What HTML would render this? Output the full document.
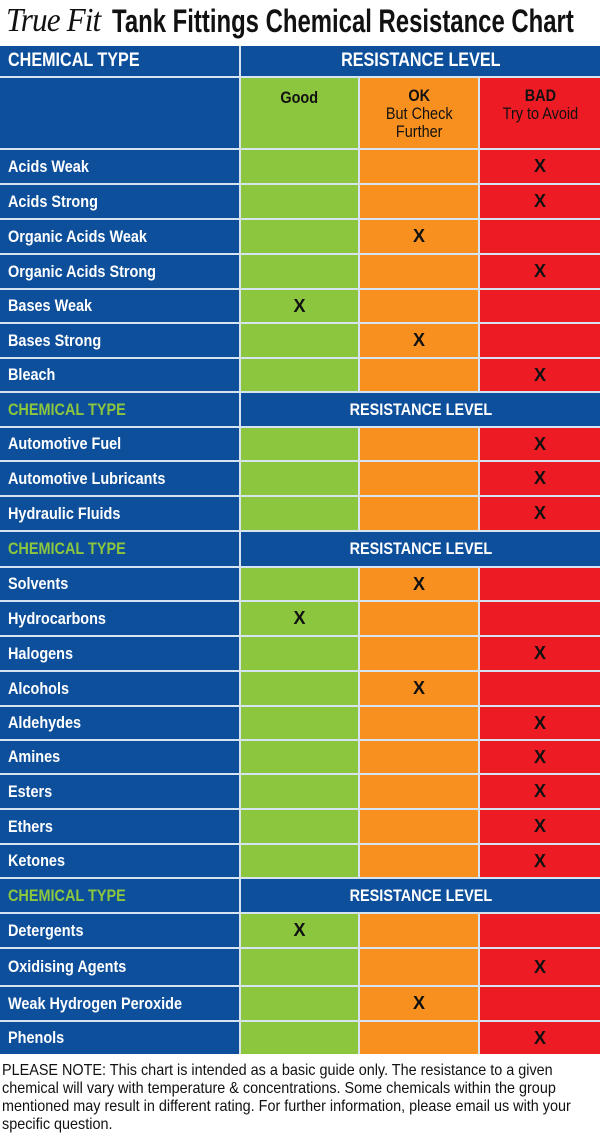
<!DOCTYPE html>
<html><head><meta charset="utf-8"><style>
body{margin:0;width:600px;height:1136px;background:#fff;position:relative;overflow:hidden;font-family:"Liberation Sans Narrow","Liberation Sans",sans-serif}
.t{position:absolute;top:0;left:0;width:600px;height:46px;overflow:hidden}
.logo{position:absolute;left:6px;top:2px;font-family:"Liberation Serif",serif;font-style:italic;font-size:34px;color:#111;letter-spacing:-1px;transform:scaleX(.92);transform-origin:left}
.title{position:absolute;left:112px;top:3px;font-weight:bold;font-size:32px;color:#111;white-space:nowrap;transform:scaleX(.747);transform-origin:left}
.tb{position:absolute;left:0;top:46px;width:600px;height:1008px;background:#d6e4f2}
.c{position:absolute;box-sizing:border-box;display:flex;align-items:center;font-weight:bold;font-size:17px;white-space:nowrap}
.c span{display:inline-block;transform:scaleX(.85);transform-origin:left center}
.cc span{transform-origin:center}
.b{background:#0d4f9b;color:#fff;padding-left:8px}
.g{background:#8cc63f}.o{background:#f7901e}.r{background:#ed1c24}
.g,.o,.r{justify-content:center;color:#111;font-size:18px}
.sec{color:#8cc63f}
.note{position:absolute;left:2px;top:1062px;font-size:16px;line-height:18px;color:#111;white-space:nowrap;transform:scaleX(.9);transform-origin:left top}
</style></head><body>
<div class="t"><div class="logo">True Fit</div><div class="title">Tank Fittings Chemical Resistance Chart</div></div>
<div class="tb"></div>
<div class="c b" style="left:0;top:46px;width:239px;height:30px;font-size:19px"><span>CHEMICAL TYPE</span></div>
<div class="c b cc" style="left:241px;top:46px;width:359px;height:30px;justify-content:center;padding:0;font-size:19px"><span>RESISTANCE LEVEL</span></div>
<div class="c b" style="left:0;top:78px;width:239px;height:70px"></div>
<div class="c g cc" style="left:241px;top:78px;width:117px;height:70px;align-items:flex-start;padding-top:10px;font-size:17px"><span>Good</span></div>
<div class="c o cc" style="left:360px;top:78px;width:118px;height:70px;justify-content:center;align-items:flex-start;padding-top:9px;font-size:17px;line-height:18px;text-align:center"><span>OK<br><b style="font-weight:normal">But Check<br>Further</b></span></div>
<div class="c r cc" style="left:480px;top:78px;width:120px;height:70px;justify-content:center;align-items:flex-start;padding-top:9px;font-size:17px;line-height:18px;text-align:center"><span>BAD<br><b style="font-weight:normal">Try to Avoid</b></span></div>

<div class="c b" style="left:0;top:150px;width:239px;height:33px"><span>Acids Weak</span></div><div class="c g" style="left:241px;top:150px;width:117px;height:33px"></div><div class="c o" style="left:360px;top:150px;width:118px;height:33px"></div><div class="c r" style="left:480px;top:150px;width:120px;height:33px">X</div>
<div class="c b" style="left:0;top:185px;width:239px;height:33px"><span>Acids Strong</span></div><div class="c g" style="left:241px;top:185px;width:117px;height:33px"></div><div class="c o" style="left:360px;top:185px;width:118px;height:33px"></div><div class="c r" style="left:480px;top:185px;width:120px;height:33px">X</div>
<div class="c b" style="left:0;top:220px;width:239px;height:33px"><span>Organic Acids Weak</span></div><div class="c g" style="left:241px;top:220px;width:117px;height:33px"></div><div class="c o" style="left:360px;top:220px;width:118px;height:33px">X</div><div class="c r" style="left:480px;top:220px;width:120px;height:33px"></div>
<div class="c b" style="left:0;top:255px;width:239px;height:33px"><span>Organic Acids Strong</span></div><div class="c g" style="left:241px;top:255px;width:117px;height:33px"></div><div class="c o" style="left:360px;top:255px;width:118px;height:33px"></div><div class="c r" style="left:480px;top:255px;width:120px;height:33px">X</div>
<div class="c b" style="left:0;top:290px;width:239px;height:32px"><span>Bases Weak</span></div><div class="c g" style="left:241px;top:290px;width:117px;height:32px">X</div><div class="c o" style="left:360px;top:290px;width:118px;height:32px"></div><div class="c r" style="left:480px;top:290px;width:120px;height:32px"></div>
<div class="c b" style="left:0;top:324px;width:239px;height:33px"><span>Bases Strong</span></div><div class="c g" style="left:241px;top:324px;width:117px;height:33px"></div><div class="c o" style="left:360px;top:324px;width:118px;height:33px">X</div><div class="c r" style="left:480px;top:324px;width:120px;height:33px"></div>
<div class="c b" style="left:0;top:359px;width:239px;height:32px"><span>Bleach</span></div><div class="c g" style="left:241px;top:359px;width:117px;height:32px"></div><div class="c o" style="left:360px;top:359px;width:118px;height:32px"></div><div class="c r" style="left:480px;top:359px;width:120px;height:32px">X</div>

<div class="c b sec" style="left:0;top:393px;width:239px;height:33px"><span>CHEMICAL TYPE</span></div><div class="c b cc" style="left:241px;top:393px;width:359px;height:33px;justify-content:center;padding:0"><span>RESISTANCE LEVEL</span></div>

<div class="c b" style="left:0;top:428px;width:239px;height:32px"><span>Automotive Fuel</span></div><div class="c g" style="left:241px;top:428px;width:117px;height:32px"></div><div class="c o" style="left:360px;top:428px;width:118px;height:32px"></div><div class="c r" style="left:480px;top:428px;width:120px;height:32px">X</div>
<div class="c b" style="left:0;top:462px;width:239px;height:33px"><span>Automotive Lubricants</span></div><div class="c g" style="left:241px;top:462px;width:117px;height:33px"></div><div class="c o" style="left:360px;top:462px;width:118px;height:33px"></div><div class="c r" style="left:480px;top:462px;width:120px;height:33px">X</div>
<div class="c b" style="left:0;top:497px;width:239px;height:33px"><span>Hydraulic Fluids</span></div><div class="c g" style="left:241px;top:497px;width:117px;height:33px"></div><div class="c o" style="left:360px;top:497px;width:118px;height:33px"></div><div class="c r" style="left:480px;top:497px;width:120px;height:33px">X</div>

<div class="c b sec" style="left:0;top:532px;width:239px;height:34px"><span>CHEMICAL TYPE</span></div><div class="c b cc" style="left:241px;top:532px;width:359px;height:34px;justify-content:center;padding:0"><span>RESISTANCE LEVEL</span></div>

<div class="c b" style="left:0;top:568px;width:239px;height:32px"><span>Solvents</span></div><div class="c g" style="left:241px;top:568px;width:117px;height:32px"></div><div class="c o" style="left:360px;top:568px;width:118px;height:32px">X</div><div class="c r" style="left:480px;top:568px;width:120px;height:32px"></div>
<div class="c b" style="left:0;top:602px;width:239px;height:33px"><span>Hydrocarbons</span></div><div class="c g" style="left:241px;top:602px;width:117px;height:33px">X</div><div class="c o" style="left:360px;top:602px;width:118px;height:33px"></div><div class="c r" style="left:480px;top:602px;width:120px;height:33px"></div>
<div class="c b" style="left:0;top:637px;width:239px;height:33px"><span>Halogens</span></div><div class="c g" style="left:241px;top:637px;width:117px;height:33px"></div><div class="c o" style="left:360px;top:637px;width:118px;height:33px"></div><div class="c r" style="left:480px;top:637px;width:120px;height:33px">X</div>
<div class="c b" style="left:0;top:672px;width:239px;height:33px"><span>Alcohols</span></div><div class="c g" style="left:241px;top:672px;width:117px;height:33px"></div><div class="c o" style="left:360px;top:672px;width:118px;height:33px">X</div><div class="c r" style="left:480px;top:672px;width:120px;height:33px"></div>
<div class="c b" style="left:0;top:707px;width:239px;height:32px"><span>Aldehydes</span></div><div class="c g" style="left:241px;top:707px;width:117px;height:32px"></div><div class="c o" style="left:360px;top:707px;width:118px;height:32px"></div><div class="c r" style="left:480px;top:707px;width:120px;height:32px">X</div>
<div class="c b" style="left:0;top:741px;width:239px;height:32px"><span>Amines</span></div><div class="c g" style="left:241px;top:741px;width:117px;height:32px"></div><div class="c o" style="left:360px;top:741px;width:118px;height:32px"></div><div class="c r" style="left:480px;top:741px;width:120px;height:32px">X</div>
<div class="c b" style="left:0;top:775px;width:239px;height:33px"><span>Esters</span></div><div class="c g" style="left:241px;top:775px;width:117px;height:33px"></div><div class="c o" style="left:360px;top:775px;width:118px;height:33px"></div><div class="c r" style="left:480px;top:775px;width:120px;height:33px">X</div>
<div class="c b" style="left:0;top:810px;width:239px;height:33px"><span>Ethers</span></div><div class="c g" style="left:241px;top:810px;width:117px;height:33px"></div><div class="c o" style="left:360px;top:810px;width:118px;height:33px"></div><div class="c r" style="left:480px;top:810px;width:120px;height:33px">X</div>
<div class="c b" style="left:0;top:845px;width:239px;height:32px"><span>Ketones</span></div><div class="c g" style="left:241px;top:845px;width:117px;height:32px"></div><div class="c o" style="left:360px;top:845px;width:118px;height:32px"></div><div class="c r" style="left:480px;top:845px;width:120px;height:32px">X</div>

<div class="c b sec" style="left:0;top:879px;width:239px;height:33px"><span>CHEMICAL TYPE</span></div><div class="c b cc" style="left:241px;top:879px;width:359px;height:33px;justify-content:center;padding:0"><span>RESISTANCE LEVEL</span></div>

<div class="c b" style="left:0;top:914px;width:239px;height:33px"><span>Detergents</span></div><div class="c g" style="left:241px;top:914px;width:117px;height:33px">X</div><div class="c o" style="left:360px;top:914px;width:118px;height:33px"></div><div class="c r" style="left:480px;top:914px;width:120px;height:33px"></div>
<div class="c b" style="left:0;top:949px;width:239px;height:36px"><span>Oxidising Agents</span></div><div class="c g" style="left:241px;top:949px;width:117px;height:36px"></div><div class="c o" style="left:360px;top:949px;width:118px;height:36px"></div><div class="c r" style="left:480px;top:949px;width:120px;height:36px">X</div>
<div class="c b" style="left:0;top:987px;width:239px;height:33px"><span>Weak Hydrogen Peroxide</span></div><div class="c g" style="left:241px;top:987px;width:117px;height:33px"></div><div class="c o" style="left:360px;top:987px;width:118px;height:33px">X</div><div class="c r" style="left:480px;top:987px;width:120px;height:33px"></div>
<div class="c b" style="left:0;top:1022px;width:239px;height:32px"><span>Phenols</span></div><div class="c g" style="left:241px;top:1022px;width:117px;height:32px"></div><div class="c o" style="left:360px;top:1022px;width:118px;height:32px"></div><div class="c r" style="left:480px;top:1022px;width:120px;height:32px">X</div>

<div class="note">PLEASE NOTE: This chart is intended as a basic guide only. The resistance to a given<br>chemical will vary with temperature &amp; concentrations. Some chemicals within the group<br>mentioned may result in different rating. For further information, please email us with your<br>specific question.</div>
</body></html>
